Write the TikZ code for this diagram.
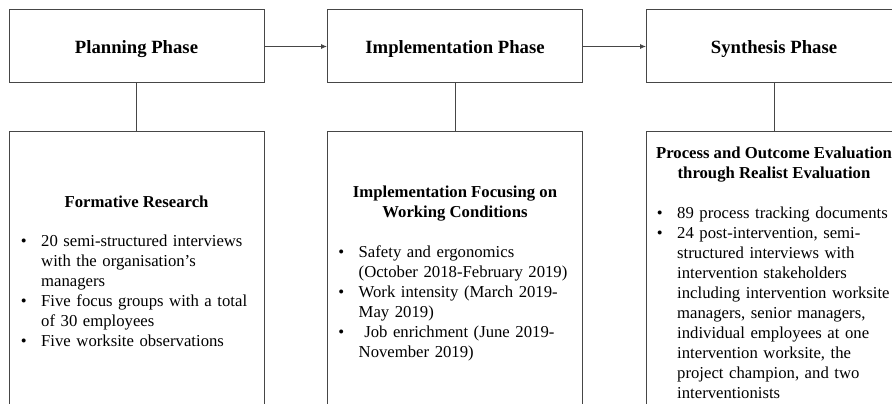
\documentclass[tikz,border=0pt]{standalone}
\usepackage{fontspec}
\setmainfont{Liberation Serif}
\usetikzlibrary{arrows.meta}
\definecolor{linegray}{RGB}{70,70,70}

% bullet list used inside the lower boxes
\newenvironment{phaselist}{\begin{list}{\textbullet}{%
  \setlength{\leftmargin}{20pt}\setlength{\labelwidth}{10pt}%
  \setlength{\labelsep}{14.5pt}\setlength{\itemsep}{0pt}%
  \setlength{\parsep}{0pt}\setlength{\topsep}{0pt}\setlength{\partopsep}{0pt}}}%
  {\end{list}}

\begin{document}
\begin{tikzpicture}[x=1pt,y=-1pt,
  phase/.style={draw=linegray, line width=1pt, minimum width=255pt,
    minimum height=73pt, inner sep=0pt, text height=16pt, text depth=2.4pt,
    font=\fontsize{18.7}{22}\selectfont\bfseries},
  detail/.style={draw=linegray, line width=1pt, minimum width=255pt,
    minimum height=330pt, anchor=north, inner sep=0pt},
  head/.style={anchor=base, align=center, inner sep=0pt,
    font=\fontsize{16.7}{20}\selectfont\bfseries},
  items/.style={anchor=base west, text width=270pt, align=left,
    inner sep=0pt, font=\fontsize{16.7}{20}\selectfont},
  link/.style={draw=linegray, line width=0.8pt},
  flow/.style={link, -{Latex[length=6pt,width=5pt]}}]
  \clip (0,0) rectangle (892,404);

  % Phase boxes
  \node[phase] (plan) at (136.5,46.5) {Planning Phase};
  \node[phase] (impl) at (455,46.5) {Implementation Phase};
  \node[phase] (synth) at (774,46.5) {Synthesis Phase};

  % Detail boxes
  \node[detail] (form) at (136.5,131) {};
  \node[detail] (work) at (455,131) {};
  \node[detail] (eval) at (774,131) {};

  % Connectors
  \draw[flow] (plan) -- (impl);
  \draw[flow] (impl) -- (synth);
  \draw[link] (plan) -- (form);
  \draw[link] (impl) -- (work);
  \draw[link] (synth) -- (eval);

  % Planning details
  \node[head] (formhead) at (136.5,207.5) {Formative Research};
  \node[items] (formlist) at (21,226) {\begin{phaselist}
    \item 20 semi-structured interviews\\ with the organisation’s\\ managers
    \item Five focus groups with a total\\ of 30 employees
    \item Five worksite observations
  \end{phaselist}};

  % Implementation details
  \node[head] (workhead) at (455,217)
    {Implementation Focusing on\\ Working Conditions};
  \node[items] (worklist) at (338.5,237) {\begin{phaselist}
    \item Safety and ergonomics\\ (October 2018-February 2019)
    \item Work intensity (March 2019-\\ May 2019)
    \item \ Job enrichment (June 2019-\\ November 2019)
  \end{phaselist}};

  % Synthesis details
  \node[head] (evalhead) at (774,178)
    {Process and Outcome Evaluation\\ through Realist Evaluation};
  \node[items] (evallist) at (657,198.5) {\begin{phaselist}
    \item 89 process tracking documents
    \item 24 post-intervention, semi-\\ structured interviews with\\
      intervention stakeholders\\ including intervention worksite\\
      managers, senior managers,\\ individual employees at one\\
      intervention worksite, the\\ project champion, and two\\
      interventionists
  \end{phaselist}};
\end{tikzpicture}
\end{document}
